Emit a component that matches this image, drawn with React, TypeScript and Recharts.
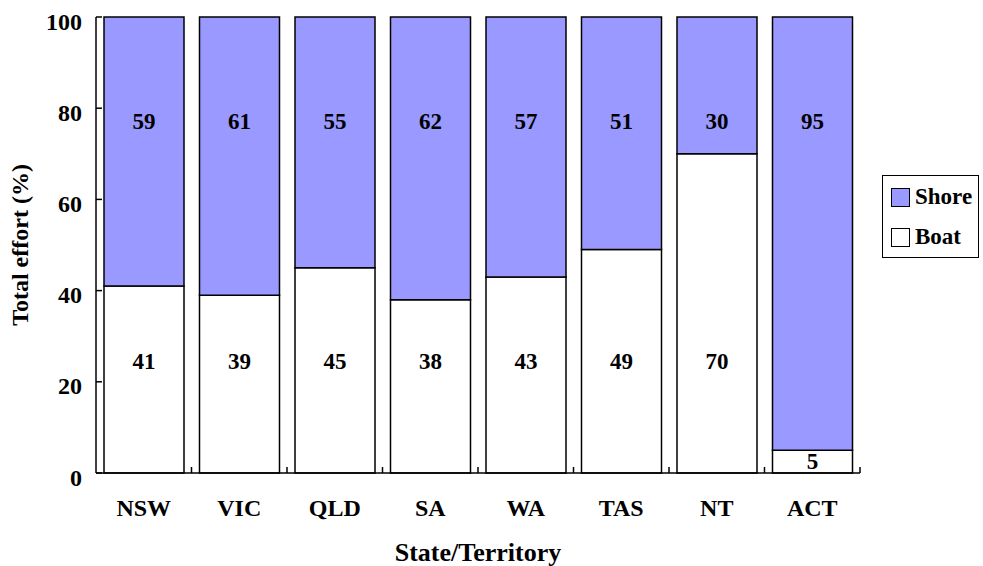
import React from 'react';
import {
    BarChart, Bar, XAxis, YAxis, Legend, LabelList
} from 'recharts';

const states = ['NSW', 'VIC', 'QLD', 'SA', 'WA', 'TAS', 'NT', 'ACT'];
const boat = [41, 39, 45, 38, 43, 49, 70, 5];
const shore = [59, 61, 55, 62, 57, 51, 30, 95];
const yTicks = [0, 20, 40, 60, 80, 100];

const data = states.map((state, i) => ({ state, boat: boat[i], shore: shore[i] }));

const FONT = '"Liberation Serif", "Times New Roman", serif';
const SHORE_FILL = '#9999FF';
const X_TICK_MARGIN = 26;

// Excel put the labels at fixed heights, not at the segment centres
const ShoreLabel = (props: any) => {
    const { x, y, width, height, value } = props;
    const unit = height / value;
    return (
        <text x={x + width / 2} y={y + unit * 23} textAnchor="middle" dominantBaseline="central"
            fontFamily={FONT} fontWeight="bold" fontSize={23} fill="#000">
            {value}
        </text>
    );
};

const BoatLabel = (props: any) => {
    const { x, y, width, height, value } = props;
    const unit = height / value;
    // tiny segments get a centred label
    const off = value < 24 ? height / 2 : unit * 24.5;
    return (
        <text x={x + width / 2} y={y + height - off} textAnchor="middle" dominantBaseline="central"
            fontFamily={FONT} fontWeight="bold" fontSize={23} fill="#000">
            {value}
        </text>
    );
};

// category label plus a small inward tick on the right edge of the band
const CatTick = (props: any) => {
    const { x, y, payload, width, visibleTicksCount } = props;
    const half = payload && payload.offset ? payload.offset : width / visibleTicksCount / 2;
    const axisY = y - X_TICK_MARGIN;
    return (
        <g>
            <line x1={x + half} x2={x + half} y1={axisY} y2={axisY - 6} stroke="#000" strokeWidth={1.5} />
            <text x={x} y={y} dy="0.71em" textAnchor="middle"
                fontFamily={FONT} fontWeight="bold" fontSize={24} fill="#000">
                {payload.value}
            </text>
        </g>
    );
};

const LegendBox = () => (
    <div style={{
        border: '1px solid #000', background: '#fff', padding: '1px 6px 0 8px',
        fontFamily: FONT, fontWeight: 'bold', fontSize: 23
    }}>
        {[{ name: 'Shore', fill: SHORE_FILL }, { name: 'Boat', fill: '#fff' }].map((it) => (
            <div key={it.name} style={{ display: 'flex', alignItems: 'center', height: 40 }}>
                <span style={{
                    display: 'inline-block', width: 17, height: 17, background: it.fill,
                    border: '1px solid #000', marginRight: 5
                }} />
                {it.name}
            </div>
        ))}
    </div>
);

const EmptyTick = () => <g />;

export default function App() {
    return (
        <div style={{ position: 'absolute', left: 0, top: 0 }}>
            <BarChart width={983} height={566} data={data}
                margin={{ top: 17, right: 123, left: 0, bottom: 0 }}>
                <XAxis dataKey="state" height={93} tickLine={false} tickSize={0} tickMargin={X_TICK_MARGIN}
                    axisLine={{ stroke: '#000', strokeWidth: 1.5 }} tick={CatTick} interval={0}
                    label={{
                        value: 'State/Territory', position: 'insideBottom', offset: 5,
                        style: { fontFamily: FONT, fontWeight: 'bold', fontSize: 26, fill: '#000' }
                    }} />
                <YAxis yAxisId="marks" type="number" domain={[0, 100]} ticks={yTicks} allowDataOverflow
                    width={1} mirror tickSize={6} tick={EmptyTick} axisLine={false}
                    tickLine={{ stroke: '#000', strokeWidth: 1.5 }} />
                <YAxis yAxisId="val" type="number" domain={[0, 100]} ticks={yTicks} width={96}
                    tickLine={false} tickSize={0} tickMargin={14}
                    axisLine={{ stroke: '#000', strokeWidth: 1.5 }}
                    tick={{ fontFamily: FONT, fontWeight: 'bold', fontSize: 24, fill: '#000', dy: 4 }}
                    label={{
                        content: (p: any) => {
                            const vb = p.viewBox;
                            const cx = 20;
                            const cy = vb.y + vb.height / 2;
                            return (
                                <text x={cx} y={cy} transform={`rotate(-90, ${cx}, ${cy})`}
                                    textAnchor="middle" dominantBaseline="central"
                                    fontFamily={FONT} fontWeight="bold" fontSize={24} fill="#000">
                                    Total effort (%)
                                </text>
                            );
                        }
                    }} />
                <Legend layout="vertical" align="center" verticalAlign="middle"
                    content={LegendBox}
                    wrapperStyle={{ left: 882, top: 175, width: 'auto' }} />
                <Bar dataKey="boat" name="Boat" stackId="a" yAxisId="val"
                    fill="#fff" stroke="#000" strokeWidth={1.5} barSize={80} isAnimationActive={false}>
                    <LabelList dataKey="boat" content={BoatLabel} />
                </Bar>
                <Bar dataKey="shore" name="Shore" stackId="a" yAxisId="val"
                    fill={SHORE_FILL} stroke="#000" strokeWidth={1.5} barSize={80} isAnimationActive={false}>
                    <LabelList dataKey="shore" content={ShoreLabel} />
                </Bar>
            </BarChart>
        </div>
    );
}
